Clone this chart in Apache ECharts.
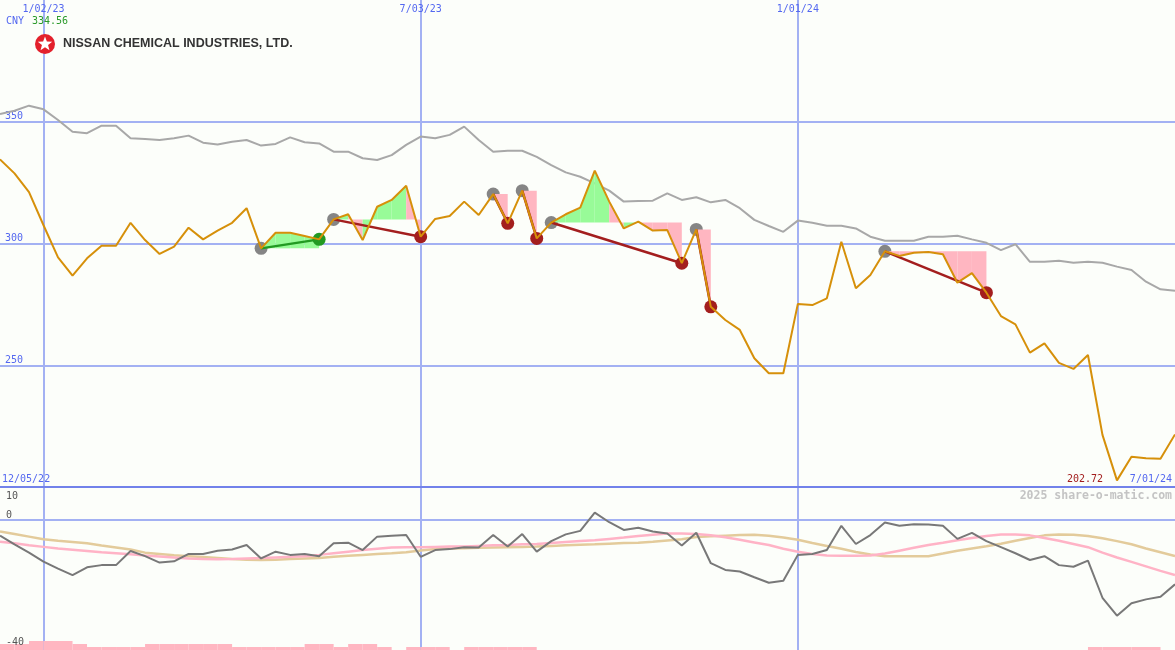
<!DOCTYPE html>
<html><head><meta charset="utf-8">
<script src="https://cdn.jsdelivr.net/npm/echarts/dist/echarts.min.js"></script>
<style>html,body{margin:0;padding:0;background:#fcfefa}#c{width:1175px;height:650px}</style>
</head><body><div id="c"></div><script>
// ---- data ----
const weeks = ['12/12/22','12/19/22','12/26/22','1/02/23','1/09/23','1/16/23','1/23/23','1/30/23','2/06/23','2/13/23',
 '2/20/23','2/27/23','3/06/23','3/13/23','3/20/23','3/27/23','4/03/23','4/10/23','4/17/23','4/24/23',
 '5/01/23','5/08/23','5/15/23','5/22/23','5/29/23','6/05/23','6/12/23','6/19/23','6/26/23','7/03/23',
 '7/10/23','7/17/23','7/24/23','7/31/23','8/07/23','8/14/23','8/21/23','8/28/23','9/04/23','9/11/23',
 '9/18/23','9/25/23','10/02/23','10/09/23','10/16/23','10/23/23','10/30/23','11/06/23','11/13/23','11/20/23',
 '11/27/23','12/04/23','12/11/23','12/18/23','12/25/23','1/01/24','1/08/24','1/15/24','1/22/24','1/29/24',
 '2/05/24','2/12/24','2/19/24','2/26/24','3/04/24','3/11/24','3/18/24','3/25/24','4/01/24','4/08/24',
 '4/15/24','4/22/24','4/29/24','5/06/24','5/13/24','5/20/24','5/27/24','6/03/24','6/10/24','6/17/24',
 '6/24/24','7/01/24'];
const price = [334.56,328.8,321.1,307.5,294.3,286.8,293.9,299.1,299.1,308.5,
 301.4,295.7,298.7,306.5,301.7,305.3,308.5,314.5,298.0,304.4,
 304.4,303.1,301.7,309.9,312.0,301.4,315.1,317.9,323.7,302.8,
 310.1,311.3,317.2,311.7,320.3,308.3,321.7,302.1,308.6,312.0,
 314.7,329.9,317.2,306.2,309.0,305.3,305.5,291.9,305.8,274.0,
 268.6,264.5,252.9,246.7,246.7,275.2,274.7,277.5,300.7,281.6,
 287.1,296.8,294.9,296.2,296.5,295.6,283.9,287.8,279.8,270.2,
 266.8,255.2,259.0,251.0,248.5,254.2,221.4,202.72,212.4,211.8,
 211.6,221.6];
const avgLine = [353.2,354.5,356.6,355.1,350.7,345.9,345.3,348.4,348.4,343.2,
 342.9,342.5,343.2,344.3,341.4,340.7,341.8,342.5,340.2,340.9,
 343.6,341.6,341.1,337.7,337.7,335.0,334.3,336.3,340.5,343.9,
 343.2,344.6,348.0,342.5,337.7,338.1,338.1,335.6,332.2,329.2,
 327.4,324.7,321.7,317.2,317.5,317.6,320.6,317.9,319.0,316.9,
 317.9,314.5,309.7,307.2,304.8,309.4,308.5,307.3,307.3,306.2,
 302.8,301.1,301.1,301.1,302.8,302.8,303.2,301.7,300.3,297.3,
 299.7,292.5,292.5,292.9,292.1,292.5,292.1,290.5,289.1,284.3,
 281.2,280.6];
const osc = [-4.9,-7.6,-10.2,-13.0,-15.2,-17.2,-14.8,-14.1,-14.1,-9.7,
 -11.3,-13.3,-12.9,-10.6,-10.6,-9.6,-9.2,-7.8,-12.0,-9.9,
 -10.9,-10.6,-11.3,-7.3,-7.1,-9.4,-5.2,-4.9,-4.7,-11.5,
 -9.4,-9.1,-8.5,-8.6,-4.7,-8.3,-4.4,-9.9,-6.6,-4.5,
 -3.4,2.3,-0.7,-3.1,-2.4,-3.6,-4.2,-8.0,-4.0,-13.5,
 -15.6,-16.1,-17.9,-19.6,-19.0,-10.9,-10.6,-9.4,-1.8,-7.5,
 -4.7,-0.8,-1.8,-1.3,-1.4,-1.8,-5.9,-4.0,-6.6,-8.5,
 -10.4,-12.5,-11.3,-14.1,-14.6,-12.7,-24.3,-29.9,-26.0,-24.8,
 -24.0,-20.1];
const oscPink = [-6.8,-7.3,-7.9,-8.4,-8.9,-9.3,-9.7,-10.1,-10.4,-10.7,
 -11.1,-11.4,-11.7,-12.0,-12.2,-12.3,-12.2,-12.0,-11.9,-11.7,
 -11.5,-11.3,-10.9,-10.4,-9.9,-9.4,-9.0,-8.6,-8.5,-8.5,
 -8.4,-8.3,-8.3,-8.1,-7.9,-7.8,-7.6,-7.5,-7.2,-6.9,
 -6.6,-6.3,-5.9,-5.5,-5.0,-4.6,-4.2,-4.2,-4.4,-4.8,
 -5.4,-6.2,-7.0,-7.8,-9.0,-9.9,-10.6,-11.1,-11.2,-11.2,
 -11.1,-10.5,-9.6,-8.7,-7.8,-7.1,-6.3,-5.6,-5.0,-4.5,
 -4.5,-4.8,-5.6,-6.5,-7.5,-8.5,-10.2,-11.7,-13.1,-14.5,
 -15.9,-17.2];
const oscTan = [-3.6,-4.4,-5.2,-6.0,-6.5,-6.9,-7.3,-8.0,-8.6,-9.2,
 -10.2,-10.6,-11.0,-11.3,-11.6,-11.9,-12.2,-12.4,-12.5,-12.4,
 -12.2,-12.0,-11.9,-11.5,-11.2,-10.9,-10.6,-10.4,-10.1,-9.5,
 -9.1,-8.9,-8.8,-8.7,-8.6,-8.5,-8.4,-8.3,-8.1,-7.9,
 -7.7,-7.6,-7.4,-7.2,-7.1,-6.8,-6.4,-6.0,-5.3,-5.1,
 -4.9,-4.7,-4.6,-4.9,-5.5,-6.2,-7.2,-8.1,-9.0,-10.0,
 -10.8,-11.3,-11.3,-11.3,-11.3,-10.5,-9.6,-8.9,-8.2,-7.4,
 -6.5,-5.6,-4.8,-4.5,-4.6,-5.0,-5.7,-6.6,-7.6,-8.9,
 -10.1,-11.3];
const bars = [2,2,3,3,3,2,1,1,1,1,
 2,2,2,2,2,2,1,1,1,1,
 1,2,2,1,2,2,1,0,1,1,
 1,0,1,1,1,1,1,0,0,0,
 0,0,0,0,0,0,0,0,0,0,
 0,0,0,0,0,0,0,0,0,0,
 0,0,0,0,0,0,0,0,0,0,
 0,0,0,0,0,1,1,1,1,1,
 0];
const tradeStart = [18,23,34,36,38,48,61];
const tradeEnd   = [22,29,35,37,47,49,68];
const gridDates = ['1/02/23','7/03/23','1/01/24'];
const priceTicks = [250,300,350];
const oscTicks = ['10','0','-40'];
const firstDate = '12/05/22';
const currency = 'CNY';
const company = 'NISSAN CHEMICAL INDUSTRIES, LTD.';
const watermark = '2025 share-o-matic.com';

// ---- styles ----
const BLUE = '#5468f0', GRID = '#a3b1f3', SEP = '#7282ea';
const MONO = '"DejaVu Sans Mono", monospace';
const WIN = '#229a22', LOSS = '#a31e1e', GREY = '#858585';
const FILL_UP = '#98fb98', FILL_DN = '#ffb6c1';

const chart = echarts.init(document.getElementById('c'), null, {renderer:'canvas'});
const showDate = (idx) => gridDates.includes(weeks[idx]);

const fillData = [];
tradeStart.forEach((s, k) => { for (let i = s; i < tradeEnd[k]; i++) fillData.push([i, price[s]]); });
const connData = tradeStart.map((s, k) => [s, tradeEnd[k]]);
const startPts = tradeStart.map(s => [s, price[s]]);
const endPts = tradeStart.map((s, k) => ({value:[tradeEnd[k], price[tradeEnd[k]]],
  itemStyle:{color: price[tradeEnd[k]] >= price[s] ? WIN : LOSS}}));
const barData = bars.map((v, i) => [i, v]).filter(d => d[1] > 0);
const minPrice = Math.min(...price);

// star points for logo
const star = [];
for (let k = 0; k < 10; k++) {
  const r = k % 2 ? 3.2 : 7.6, a = -Math.PI/2 + k*Math.PI/5;
  star.push([45 + r*Math.cos(a), 44 + r*Math.sin(a)]);
}

const txt = (x, y, text, color, extra) => Object.assign({type:'text', x, y, z:100,
  style:Object.assign({text, fill:color, font:'10px ' + MONO, verticalAlign:'middle'}, extra||{})});

chart.setOption({
  animation:false,
  backgroundColor:'#fcfefa',
  grid:[{left:0,right:0,top:0,height:487},{left:0,right:0,top:488,height:162}],
  xAxis:[
    {type:'category', gridIndex:0, data:weeks, boundaryGap:false, position:'top',
     axisLine:{show:false,onZero:false}, axisTick:{show:false},
     axisLabel:{inside:true, margin:4, interval:(i)=>showDate(i), color:BLUE, fontFamily:MONO, fontSize:10, verticalAlign:'top'},
     splitLine:{show:true, interval:(i)=>showDate(i), lineStyle:{color:GRID,width:2}}},
    {type:'category', gridIndex:0, data:weeks, boundaryGap:false, position:'bottom',
     axisLine:{show:true,onZero:false,lineStyle:{color:SEP,width:2}}, axisTick:{show:false}, axisLabel:{show:false}, splitLine:{show:false}},
    {type:'category', gridIndex:1, data:weeks, boundaryGap:false, position:'bottom',
     axisLine:{show:true,onZero:true,lineStyle:{color:GRID,width:2}}, axisTick:{show:false}, axisLabel:{show:false},
     splitLine:{show:true, interval:(i)=>showDate(i), lineStyle:{color:GRID,width:2}}}
  ],
  yAxis:[
    {type:'value', gridIndex:0, min:200, max:400, interval:50,
     axisLine:{show:false}, axisTick:{show:false},
     axisLabel:{inside:true, margin:5, verticalAlign:'bottom', color:BLUE, fontFamily:MONO, fontSize:10,
       formatter:(v)=> priceTicks.includes(v) ? String(v) : ''},
     splitLine:{show:true, showMinLine:false, showMaxLine:false, lineStyle:{color:GRID,width:2}}},
    {type:'value', gridIndex:1, min:-40.625, max:10, axisLine:{show:false}, axisTick:{show:false}, axisLabel:{show:false}, splitLine:{show:false}},
    {type:'value', gridIndex:1, min:0, max:54, show:false, splitLine:{show:false}}
  ],
  graphic:[
    {type:'circle', z:100, shape:{cx:45, cy:44, r:10}, style:{fill:'#e3202b'}},
    {type:'polygon', z:101, shape:{points:star}, style:{fill:'#ffffff'}},
    {type:'text', x:63, y:44, z:100, style:{text:company, fill:'#333333', font:'bold 12.5px "Liberation Sans", Arial, sans-serif', verticalAlign:'middle'}},
    txt(6, 21, currency, BLUE),
    txt(32, 21, price[0].toFixed(2), '#2a9a2a'),
    txt(2, 479, firstDate, BLUE),
    txt(1103, 479, minPrice.toFixed(2), LOSS, {align:'right'}),
    txt(1172, 479, weeks[weeks.length-1], BLUE, {align:'right'}),
    txt(1172, 496, watermark, '#c4c4c4', {align:'right', font:'bold 11.5px ' + MONO}),
    txt(6, 496, oscTicks[0], '#555555'),
    txt(6, 515, oscTicks[1], '#555555'),
    txt(6, 642, oscTicks[2], '#555555')
  ],
  series:[
    {type:'line', name:'avg', xAxisIndex:0, yAxisIndex:0, data:avgLine, showSymbol:false, z:1,
     lineStyle:{color:'#a8a8a8', width:2}},
    {type:'scatter', name:'start', xAxisIndex:0, yAxisIndex:0, data:startPts, symbolSize:13, z:2,
     itemStyle:{color:GREY, opacity:1}},
    {type:'custom', name:'fill', xAxisIndex:0, yAxisIndex:0, data:fillData, z:3,
     renderItem:(params, api) => {
       const i = api.value(0), lvl = api.value(1);
       const a = api.coord([i, price[i]]), b = api.coord([i+1, price[i+1]]);
       const la = api.coord([i, lvl]), lb = api.coord([i+1, lvl]);
       return {type:'polygon', shape:{points:[a,b,lb,la]}, style:{fill: price[i+1] >= lvl ? FILL_UP : FILL_DN}};
     }},
    {type:'custom', name:'conn', xAxisIndex:0, yAxisIndex:0, data:connData, z:4,
     renderItem:(params, api) => {
       const s = api.value(0), e = api.value(1);
       const a = api.coord([s, price[s]]), b = api.coord([e, price[e]]);
       return {type:'line', shape:{x1:a[0],y1:a[1],x2:b[0],y2:b[1]},
         style:{stroke: price[e] >= price[s] ? WIN : LOSS, lineWidth:2.5}};
     }},
    {type:'scatter', name:'end', xAxisIndex:0, yAxisIndex:0, data:endPts, symbolSize:13, z:5, itemStyle:{opacity:1}},
    {type:'line', name:'price', xAxisIndex:0, yAxisIndex:0, data:price, showSymbol:false, z:6,
     lineStyle:{color:'#d6900a', width:2}},
    {type:'custom', name:'bars', xAxisIndex:2, yAxisIndex:2, data:barData, z:1,
     renderItem:(params, api) => {
       const i = api.value(0), v = api.value(1);
       const p0 = api.coord([i, 0]), p1 = api.coord([i+1, v]);
       return {type:'rect', shape:{x:p0[0], y:p1[1], width:p1[0]-p0[0], height:p0[1]-p1[1]}, style:{fill:'#ffb6c1'}};
     }},
    {type:'line', name:'tan', xAxisIndex:2, yAxisIndex:1, data:oscTan, showSymbol:false, z:2,
     lineStyle:{color:'#e3cb9b', width:2.5}},
    {type:'line', name:'pink', xAxisIndex:2, yAxisIndex:1, data:oscPink, showSymbol:false, z:3,
     lineStyle:{color:'#ffb3c6', width:2.5}},
    {type:'line', name:'osc', xAxisIndex:2, yAxisIndex:1, data:osc, showSymbol:false, z:4,
     lineStyle:{color:'#787878', width:2}}
  ]
});
</script></body></html>
